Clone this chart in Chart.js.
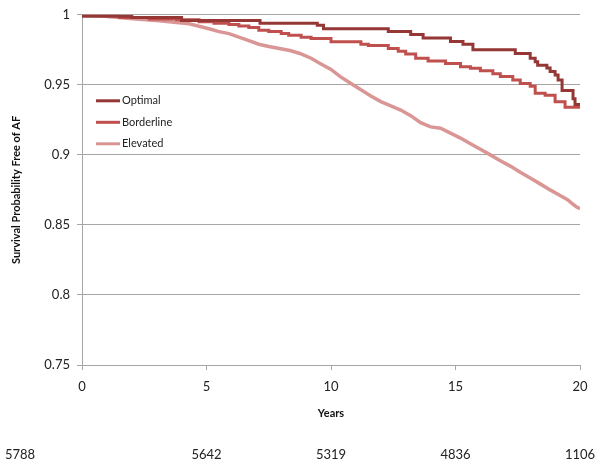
<!DOCTYPE html>
<html>
<head>
<meta charset="utf-8">
<script src="https://cdn.jsdelivr.net/npm/chart.js@4.4.0/dist/chart.umd.min.js"></script>
<style>
  html, body { margin: 0; padding: 0; background: #fff; }
  #wrap { width: 600px; height: 464px; }
</style>
</head>
<body>
<div id="wrap"><canvas id="chart"></canvas></div>
<script>
// Kaplan-Meier curves (years, survival)
const optimalYears = [0, 2, 4, 7.15, 9.45, 9.7, 12.3, 13.2, 13.7, 14.8, 15.3, 15.7, 17.4, 18.0, 18.2, 18.3, 18.67, 18.8, 19.0, 19.12, 19.28, 19.72, 19.8, 19.88, 20];
const optimalSurv  = [1, 0.999, 0.998, 0.996, 0.994, 0.9925, 0.99, 0.988, 0.986, 0.9835, 0.981, 0.979, 0.975, 0.9724, 0.969, 0.9665, 0.964, 0.962, 0.9595, 0.957, 0.9535, 0.946, 0.94, 0.936, 0.936];

const borderlineYears = [0, 1.5, 2.7, 3.8, 4.7, 5.3, 5.9, 6.3, 6.7, 7.1, 7.5, 8.0, 8.3, 8.8, 9.2, 10.0, 11.2, 11.5, 12.3, 12.7, 13.0, 13.4, 13.9, 14.6, 15.2, 15.6, 16.0, 16.5, 16.8, 17.3, 17.6, 18.0, 18.2, 18.6, 19.0, 19.4, 19.7, 20];
const borderlineSurv  = [1, 0.9995, 0.998, 0.997, 0.9965, 0.995, 0.994, 0.993, 0.992, 0.991, 0.989, 0.988, 0.9866, 0.9854, 0.984, 0.983, 0.9807, 0.979, 0.978, 0.976, 0.974, 0.972, 0.969, 0.967, 0.9653, 0.963, 0.9618, 0.96, 0.958, 0.956, 0.9535, 0.951, 0.949, 0.944, 0.9425, 0.938, 0.934, 0.934];

const elevatedYears = [0, 0.7, 1.9, 3.1, 4.3, 5.1, 5.5, 5.9, 6.3, 6.7, 7.1, 7.5, 8.35, 8.75, 9.2, 9.56, 10.0, 10.36, 10.8, 11.2, 11.6, 12.0, 12.4, 12.8, 13.2, 13.6, 14.0, 14.4, 14.8, 15.2, 15.6, 16.0, 16.4, 16.8, 17.2, 17.6, 18.0, 18.4, 18.8, 19.2, 19.5, 19.7, 19.85, 20];
const elevatedSurv  = [1, 0.9993, 0.9974, 0.9958, 0.9936, 0.99, 0.988, 0.9866, 0.984, 0.9816, 0.979, 0.9774, 0.9745, 0.9724, 0.969, 0.9653, 0.961, 0.956, 0.951, 0.9465, 0.942, 0.938, 0.935, 0.932, 0.928, 0.923, 0.92, 0.919, 0.9155, 0.912, 0.908, 0.904, 0.9, 0.8958, 0.892, 0.8876, 0.8835, 0.8793, 0.875, 0.871, 0.868, 0.865, 0.863, 0.8616];

// numbers at risk shown under the axis
const riskYears  = [0, 5, 10, 15, 20];
const riskCounts = ['5788', '5642', '5319', '4836', '1106'];

const seriesNames = ['Optimal', 'Borderline', 'Elevated'];

const FONT = 'Lato, "Open Sans", sans-serif';
const GRID = '#a6a6a6';

const zip = (xs, ys) => xs.map((x, i) => ({x: x, y: ys[i]}));

// legend drawn inside the plot, top left
const innerLegend = {
  id: 'innerLegend',
  afterDatasetsDraw(chart) {
    const c = chart.ctx;
    const area = chart.chartArea;
    c.save();
    c.font = '11px ' + FONT;
    c.textBaseline = 'middle';
    chart.data.datasets.forEach((ds, i) => {
      const y = area.top + 86 + i * 21.5;
      c.strokeStyle = ds.borderColor;
      c.lineWidth = 3;
      c.beginPath();
      c.moveTo(area.left + 14, y);
      c.lineTo(area.left + 38, y);
      c.stroke();
      c.fillStyle = '#222';
      c.fillText(ds.label, area.left + 40, y);
    });
    c.restore();
  }
};

// at-risk row
const riskRow = {
  id: 'riskRow',
  afterDraw(chart) {
    const c = chart.ctx;
    const xs = chart.scales.x;
    c.save();
    c.font = '13px ' + FONT;
    c.fillStyle = '#222';
    c.textBaseline = 'middle';
    riskYears.forEach((yr, i) => {
      if (i === 0) {
        c.textAlign = 'left';
        c.fillText(riskCounts[i], 5, 455);
      } else {
        c.textAlign = 'center';
        c.fillText(riskCounts[i], xs.getPixelForValue(yr), 455);
      }
    });
    c.restore();
  }
};

const ctx = document.getElementById('chart');
const chart = new Chart(ctx, {
  type: 'line',
  data: {
    datasets: [{
      label: seriesNames[0],
      data: zip(optimalYears, optimalSurv),
      borderColor: '#953735',
      borderWidth: 3,
      stepped: 'after',
      pointRadius: 0
    }, {
      label: seriesNames[1],
      data: zip(borderlineYears, borderlineSurv),
      borderColor: '#C0504D',
      borderWidth: 3,
      stepped: 'after',
      pointRadius: 0
    }, {
      label: seriesNames[2],
      data: zip(elevatedYears, elevatedSurv),
      borderColor: '#D99694',
      borderWidth: 3.5,
      tension: 0,
      pointRadius: 0
    }]
  },
  options: {
    responsive: true,
    maintainAspectRatio: false,
    animation: false,
    layout: { padding: { top: 11, right: 20, left: 0, bottom: 0 } },
    plugins: {
      legend: { display: false },
      tooltip: { enabled: false }
    },
    scales: {
      x: {
        type: 'linear',
        min: 0,
        max: 20,
        ticks: { stepSize: 5, padding: 9, color: '#222', font: { family: FONT, size: 13 } },
        grid: { drawOnChartArea: false, drawTicks: true, tickLength: 5, color: GRID },
        border: { color: GRID },
        title: {
          display: true,
          text: 'Years',
          color: '#111',
          font: { family: FONT, size: 11, weight: 'bold' },
          padding: { top: 0, bottom: 44 }
        },
        afterFit: function(s) { s.height = 99; }
      },
      y: {
        min: 0.75,
        max: 1,
        ticks: {
          stepSize: 0.05,
          padding: 7,
          color: '#222',
          font: { family: FONT, size: 13 },
          callback: v => String(+v.toFixed(2))
        },
        grid: { color: GRID, tickLength: 5 },
        border: { color: GRID },
        title: {
          display: true,
          text: 'Survival Probability Free of AF',
          color: '#111',
          font: { family: FONT, size: 11, weight: 'bold' },
          padding: { top: 10, bottom: 0 }
        },
        afterFit: function(s) { s.width = 82; }
      }
    }
  },
  plugins: [innerLegend, riskRow]
});
</script>
</body>
</html>
